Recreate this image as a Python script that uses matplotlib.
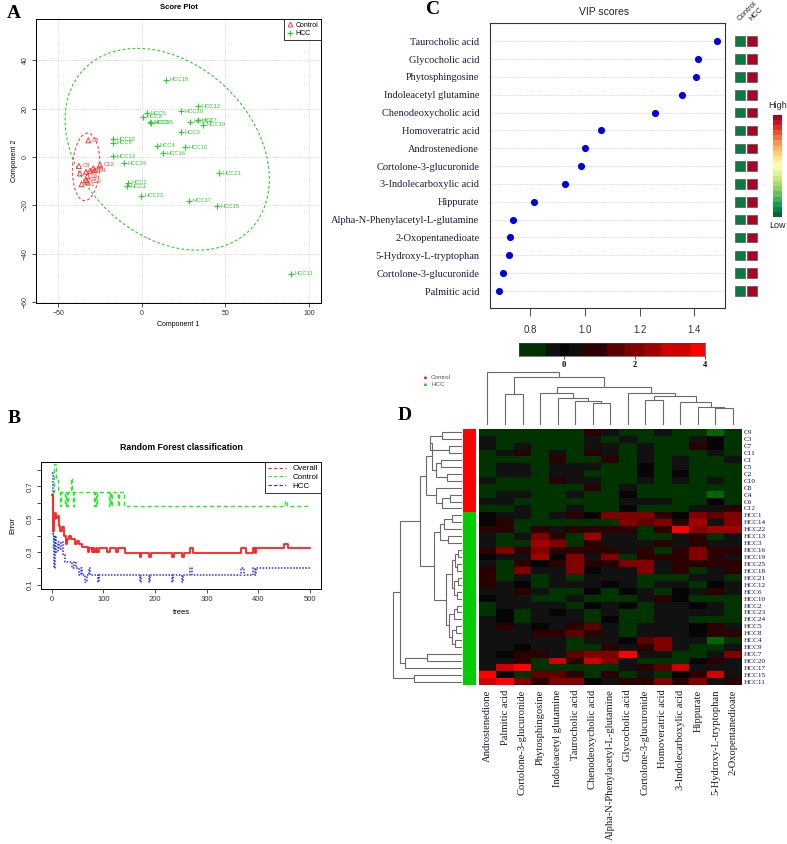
import numpy as np
import matplotlib
matplotlib.use("Agg")
import matplotlib.pyplot as plt
from matplotlib.colors import ListedColormap, BoundaryNorm
from matplotlib.lines import Line2D
from matplotlib.patches import Rectangle

SANS = ['Liberation Sans', 'DejaVu Sans']
SERIF = ['Liberation Serif', 'DejaVu Serif']
plt.rcParams['font.family'] = SANS

# ---------------- data: panel A (score plot) ----------------
ctrl_names = ['C8', 'C9', 'C12', 'C1', 'C2', 'C3', 'C4', 'C5', 'C6', 'C7', 'C10', 'C11']
ctrl_x = [-32.0, -37.6, -25.1, -37.0, -33.4, -29.1, -28.1, -31.0, -32.6, -33.4, -32.6, -36.0]
ctrl_y = [6.9, -3.7, -3.2, -6.8, -6.1, -4.7, -5.4, -5.7, -7.9, -9.5, -10.2, -11.2]
hcc_names = ['HCC18', 'HCC12', 'HCC20', 'HCC5', 'HCC9', 'HCC7', 'HCC14', 'HCC19', 'HCC6', 'HCC25',
             'HCC3', 'HCC4', 'HCC10', 'HCC16', 'HCC22', 'HCC8', 'HCC13', 'HCC24', 'HCC21', 'HCC2',
             'HCC1', 'HCC23', 'HCC17', 'HCC15', 'HCC11']
hcc_x = [14.2, 33.6, 23.4, 2.9, 0.9, 33.6, 29.0, 36.6, 5.1, 5.3, 23.4, 8.8, 25.8, 12.4, -17.5,
         -17.1, -17.1, -10.7, 46.3, -8.1, -9.1, -0.7, 28.4, 45.2, 89.0]
hcc_y = [31.9, 21.1, 19.0, 18.1, 16.7, 15.3, 14.5, 13.3, 14.4, 14.1, 10.2, 4.7, 4.0, 1.5, 7.3,
         5.9, 0.4, -2.6, -6.8, -10.6, -12.0, -16.1, -18.1, -20.3, -48.2]
ctrl_ell_center = [-33.3, -4.1]
ctrl_ell_cov = [[67.0, 12.0], [12.0, 195.0]]
hcc_ell_center = [15.2, 3.2]
hcc_ell_cov = [[3733.0, -750.0], [-750.0, 1743.0]]

# ---------------- data: panel B (random forest OOB error, step change points) ----------------
oob_trees = [1, 3, 5, 7, 9, 12, 14, 17, 20, 23, 27, 30, 33, 38, 45, 50, 53, 58, 70, 73, 78, 80, 82,
             85, 88, 92, 108, 112, 125, 128, 142, 170, 173, 188, 192, 233, 237, 252, 256, 268, 273,
             367, 375, 390, 393, 396, 450, 458, 500]
oob_err = [0.65, 0.43, 0.50, 0.54, 0.51, 0.52, 0.46, 0.43, 0.45, 0.40, 0.35, 0.38, 0.40, 0.38, 0.35,
           0.37, 0.35, 0.33, 0.30, 0.324, 0.30, 0.324, 0.30, 0.324, 0.30, 0.324, 0.30, 0.324, 0.30,
           0.324, 0.297, 0.27, 0.297, 0.27, 0.297, 0.27, 0.297, 0.27, 0.297, 0.324, 0.297, 0.324,
           0.297, 0.324, 0.297, 0.324, 0.351, 0.324, 0.324]
ctl_trees = [1, 3, 5, 9, 13, 16, 18, 25, 27, 30, 32, 38, 40, 41, 43, 82, 84, 86, 88, 110, 112, 115,
             117, 128, 130, 140, 452, 456, 500]
ctl_err = [0.333, 0.667, 0.833, 0.75, 0.667, 0.583, 0.667, 0.583, 0.667, 0.583, 0.667, 0.75, 0.667,
           0.583, 0.667, 0.583, 0.667, 0.583, 0.667, 0.583, 0.667, 0.583, 0.667, 0.583, 0.667,
           0.583, 0.61, 0.583, 0.583]
hcc_trees = [1, 3, 5, 7, 9, 12, 15, 19, 22, 25, 40, 43, 48, 53, 56, 58, 65, 68, 72, 74, 90, 92, 170,
             172, 188, 190, 233, 235, 253, 255, 268, 272, 367, 373, 390, 393, 396, 500]
hcc_err = [0.78, 0.40, 0.20, 0.40, 0.30, 0.36, 0.32, 0.36, 0.28, 0.24, 0.20, 0.24, 0.20, 0.16, 0.20,
           0.16, 0.12, 0.16, 0.20, 0.16, 0.12, 0.16, 0.12, 0.16, 0.12, 0.16, 0.12, 0.16, 0.12, 0.16,
           0.20, 0.16, 0.20, 0.16, 0.20, 0.16, 0.20, 0.20]

# ---------------- data: panel C (VIP scores) ----------------
vip_names = ['Taurocholic acid', 'Glycocholic acid', 'Phytosphingosine', 'Indoleacetyl glutamine',
             'Chenodeoxycholic acid', 'Homoveratric acid', 'Androstenedione',
             'Cortolone-3-glucuronide', '3-Indolecarboxylic acid', 'Hippurate',
             'Alpha-N-Phenylacetyl-L-glutamine', '2-Oxopentanedioate', '5-Hydroxy-L-tryptophan',
             'Cortolone-3-glucuronide', 'Palmitic acid']
vip_scores = [1.481, 1.414, 1.405, 1.356, 1.255, 1.058, 1.002, 0.986, 0.929, 0.815, 0.737, 0.727,
              0.722, 0.701, 0.687]
vip_ctrl_level = [0.04, 0.04, 0.04, 0.04, 0.04, 0.04, 0.04, 0.04, 0.04, 0.04, 0.04, 0.04, 0.04, 0.04, 0.04]
vip_hcc_level = [0.99, 0.99, 0.99, 0.99, 0.99, 0.99, 0.99, 0.99, 0.99, 0.99, 0.99, 0.99, 0.99, 0.99, 0.99]

# ---------------- data: panel D (heatmap) ----------------
hm_cols = ['Androstenedione', 'Palmitic acid', 'Cortolone-3-glucuronide', 'Phytosphingosine',
           'Indoleacetyl glutamine', 'Taurocholic acid', 'Chenodeoxycholic acid',
           'Alpha-N-Phenylacetyl-L-glutamine', 'Glycocholic acid', 'Cortolone-3-glucuronide',
           'Homoveratric acid', '3-Indolecarboxylic acid', 'Hippurate', '5-Hydroxy-L-tryptophan',
           '2-Oxopentanedioate']
hm_rows = ['C9', 'C3', 'C7', 'C11', 'C1', 'C5', 'C2', 'C10', 'C8', 'C4', 'C6', 'C12',
           'HCC1', 'HCC14', 'HCC22', 'HCC13', 'HCC3', 'HCC16', 'HCC19', 'HCC25', 'HCC18', 'HCC21',
           'HCC12', 'HCC6', 'HCC10', 'HCC2', 'HCC23', 'HCC24', 'HCC5', 'HCC8', 'HCC4', 'HCC9',
           'HCC7', 'HCC20', 'HCC17', 'HCC15', 'HCC11']
hm_group = ['Control'] * 12 + ['HCC'] * 25
hm_values = [
    [-1, -1, -1, -1, -1, -1, 0.9, -0.3, -1, -1, -0.3, -1, -1, -1.5, -1],
    [-0.3, -1, -1, -1, -1, -1, -0.3, -1, -0.3, -1, -1, -1, -0.3, 0, -1],
    [-0.3, -1, -0.3, -1, -1, -1, -0.3, -0.3, -1, -0.3, -1, -1, 0.9, 0, -1],
    [-1, -0.3, 0.9, -1, -0.3, -1, 0.9, -0.3, -1, -0.3, -1, -1, -1, -0.3, -1],
    [-1, -1, -1, -1, 0.9, -1, -1, 0.9, -1, -0.3, -1, -0.3, -1, -1, -0.3],
    [-1, -0.3, -0.3, -1, -0.3, -0.3, -0.3, -1, -1, 0, -1, -0.3, -1, -1, -1],
    [-1, -0.3, -0.3, -1, -0.3, -0.3, -1, -1, -1, 0, -1, 0, -1, -1, -1],
    [-0.3, -1, -1, -1, 0.9, -0.3, -0.3, -1, -1, -0.3, -1, -0.3, -1, -0.3, -1],
    [-1, -1, -1, -1, -1, -1, 0.9, -1, -0.3, -1, -1, -1, -1, -1, -1],
    [-1, -0.3, -0.3, -1, -1, -0.3, -1, -1, 0, -1, -1, -1, -1, -1.5, -1],
    [-0.3, -0.3, -1, -1, -1, -1, -1, -1, -0.3, -0.3, -0.3, -1, -1, 0, -1],
    [-1, -1, -0.3, -1, -1, -0.3, -1, -1, 0, -1, -1, -1, -0.3, -0.3, 0.9],
    [0, -0.3, -0.3, -1, -0.3, 0.9, 0, 2.0, 2.0, 2.0, 0.9, 0, 2.0, 1.5, 2.0],
    [0, 0.9, -1, -1, -1, -1, -1, -1, 2.0, 1.5, 2.0, 0.9, 2.5, -0.3, 2.0],
    [0.9, 0.9, -1, 0.9, -0.3, 0.9, 0.9, 0.9, 0.9, -1, 0.9, 3.8, 2.0, 2.5, 2.5],
    [-0.3, -1, -0.3, 2.0, 0.9, -1, 2.5, -0.3, -0.3, -1, -1, -0.3, 0.9, -1, -0.3],
    [-0.3, -1, -1, 2.5, 2.0, -1, 0.9, -0.3, -0.3, -0.3, 0.9, -0.3, 0.9, -0.3, -0.3],
    [0.9, 2.0, 0.9, 2.0, 0.9, 0.9, 0.9, 0.9, -0.3, 0.9, -1, 0.9, 2.0, 0.9, 0.9],
    [0, -0.3, -0.3, 2.5, 0, 2.0, -0.3, 2.0, -1, 0.9, 0.9, 0.9, 2.0, 0.9, -0.3],
    [-0.3, -1, 0.9, 0, 0.9, 2.0, 0.9, 0.9, 2.0, 2.0, -0.3, 0.9, 0.9, 0.9, 0.9],
    [0.9, -1, 2.0, -0.3, -0.3, 2.0, 0, -0.3, -0.3, 2.0, -0.3, 0.9, -1, -0.3, 0.9],
    [0.9, -1, -0.3, -1, -0.3, -1, -0.3, -0.3, -0.3, -1, -1, -1, -0.3, -0.3, -1],
    [0.9, -0.3, 0, -1, -0.3, -0.3, -0.3, 0, -0.3, -1, -0.3, -0.3, -1, 0, -0.3],
    [-0.3, -0.3, 0.9, -0.3, -1, -1, 0, -1, 0, -0.3, -1, 0, -0.3, 0.9, -0.3],
    [0, -0.3, -0.3, -1, -1, -0.3, -1, -1, -1, -0.3, 0.9, 0, -1, -1, -1],
    [-1, -0.3, -0.3, -0.3, -0.3, -1, 0, -0.3, 0, -1, -0.3, -0.3, 0, -0.3, -1],
    [-1, 0, -1, -0.3, 0, -0.3, -1, -0.3, -1, -1, -0.3, -0.3, -0.3, -0.3, -1],
    [-0.3, 0, -1, -0.3, -0.3, -0.3, -1, 0, -1, -1, -0.3, -0.3, -1, -1, -1],
    [-0.3, 0.9, -0.3, 0, -0.3, 0.9, 1.5, -0.3, -1, -0.3, -0.3, -0.3, 0, 0.9, -0.3],
    [-0.3, -0.3, -0.3, 0.9, 0.9, 1.5, 0.9, -0.3, -1, -0.3, -0.3, -0.3, 0, 0.9, 0.9],
    [-0.3, -0.3, -0.3, -0.3, -0.3, -1, -0.3, -0.3, 0, 1.5, 2.0, -0.3, -0.3, -1.5, -1],
    [-0.3, -0.3, 0, -0.3, -0.3, -1, -1, 0.9, -0.3, 0.9, 2.0, -0.3, -1, -1, -0.3],
    [-0.3, 0, 0.9, 0.9, -0.3, 1.5, 2.0, 2.0, 3.8, -0.3, -0.3, -1, -1, -0.3, 2.0],
    [-0.3, -0.3, 0.9, -1, 3.2, 0.9, 3.2, 2.0, -0.3, -1, -1, -1, 0, 0.9, -0.3],
    [-0.3, 3.2, 3.8, -1, -1, -1, -1, -1, -0.3, 0.9, 1.5, 3.2, -0.3, -0.3, -0.3],
    [3.8, 0, -1, 1.5, 1.5, 0.9, -1, 0.9, -1, -0.3, -1, 0, 0.9, 3.2, -0.3],
    [3.2, 3.8, 2.0, 0.9, 2.0, 2.0, 0, -0.3, 0.9, 0.9, 2.0, 0.9, 2.0, -0.3, 0.9],
]
# colour key of heatmap
key_bounds = [-1.27, -0.51, -0.11, 0.13, 0.51, 1.22, 1.74, 2.26, 2.74, 3.59, 4.0]
key_colors = ['#003300', '#111111', '#050505', '#0e0e0e', '#2b0000', '#5c0000', '#800000',
              '#a00000', '#d00000', '#ff0000']
# dendrograms: (child_a, child_b, height); new node ids continue after leaves
col_merges = [(6, 7, 65), (5, 15, 73), (4, 16, 80), (3, 17, 97), (1, 2, 93), (13, 14, 50),
              (12, 20, 55), (11, 21, 70), (9, 10, 75), (23, 22, 87), (8, 24, 97), (18, 25, 115),
              (19, 26, 145), (0, 27, 160)]
row_merges = [(0, 1, 20), (2, 3, 13), (37, 38, 32), (4, 5, 21), (6, 7, 15), (40, 41, 26),
              (39, 42, 30), (9, 10, 12), (44, 11, 20), (8, 45, 26), (43, 46, 36),
              (12, 13, 10), (48, 14, 18), (15, 16, 14), (49, 50, 22), (17, 18, 4), (19, 20, 5),
              (52, 53, 7), (21, 22, 4), (23, 24, 5), (55, 56, 8), (54, 57, 10), (25, 26, 5),
              (59, 27, 8), (28, 29, 6), (30, 31, 7), (61, 62, 10), (60, 63, 13), (58, 64, 16),
              (51, 65, 28), (47, 66, 42), (32, 33, 35), (68, 34, 57), (67, 69, 62), (35, 36, 48),
              (70, 71, 69)]

# ================= figure =================
W, H = 787, 844
fig = plt.figure(figsize=(W / 100, H / 100), dpi=100)


def add_ax(x0, y0, x1, y1):
    return fig.add_axes([x0 / W, 1 - y1 / H, (x1 - x0) / W, (y1 - y0) / H])


def ftext(x, y, s, **kw):
    fig.text(x / W, 1 - y / H, s, **kw)


def panel_letter(x, y, s):
    ftext(x, y, s, fontsize=14, fontweight='bold', family=SERIF, ha='center', va='center')


# ---------------- Panel A ----------------
RED_A = '#ff3b3b'
GRN_A = '#2ecc2e'
axA = add_ax(36, 19, 321, 303)
axA.set_xlim(-63.3, 107.2)
axA.set_ylim(-60.4, 57.1)
axA.set_xticks([-50, 0, 50, 100])
axA.set_yticks([-60, -40, -20, 0, 20, 40])
axA.grid(True, color='#c8c8c8', ls=':', lw=0.6)
axA.set_axisbelow(True)
t = np.linspace(0, 2 * np.pi, 300)
for cen, cov, col in [(hcc_ell_center, hcc_ell_cov, GRN_A), (ctrl_ell_center, ctrl_ell_cov, RED_A)]:
    vals, vecs = np.linalg.eigh(np.array(cov))
    pts = vecs @ (np.sqrt(vals)[:, None] * np.vstack([np.cos(t), np.sin(t)]))
    axA.plot(cen[0] + pts[0], cen[1] + pts[1], color=col, ls=(0, (2.5, 2)), lw=0.8)
axA.scatter(hcc_x, hcc_y, marker='+', color=GRN_A, s=16, lw=0.8, zorder=3)
axA.scatter(ctrl_x, ctrl_y, marker='^', facecolors='none', edgecolors=RED_A, s=13, lw=0.7, zorder=3)
for n, x, y in zip(hcc_names, hcc_x, hcc_y):
    axA.annotate(n, (x, y), xytext=(2.5, 0), textcoords='offset points', fontsize=4.2,
                 color=GRN_A, va='center')
for n, x, y in zip(ctrl_names, ctrl_x, ctrl_y):
    axA.annotate(n, (x, y), xytext=(2.5, 0), textcoords='offset points', fontsize=4.2,
                 color=RED_A, va='center')
axA.tick_params(labelsize=5, length=3, width=0.6, pad=2, colors='#333333')
for lb in axA.get_yticklabels():
    lb.set_rotation(90)
    lb.set_va('center')
for s in axA.spines.values():
    s.set_linewidth(0.7)
axA.set_xlabel('Component 1', fontsize=5, labelpad=3)
axA.set_ylabel('Component 2', fontsize=5, labelpad=3)
axA.set_title('Score Plot', fontsize=5.5, fontweight='bold', pad=7)
legA = axA.legend(handles=[Line2D([], [], marker='^', ls='none', mfc='none', mec=RED_A, ms=3.5, mew=0.7),
                           Line2D([], [], marker='+', ls='none', color=GRN_A, ms=4, mew=0.8)],
                  labels=['Control', 'HCC'], loc='upper right', fontsize=5, frameon=True,
                  fancybox=False, edgecolor='black', borderaxespad=0, handletextpad=0.3,
                  handlelength=1.0, borderpad=0.4, labelspacing=0.2)
legA.get_frame().set_linewidth(0.7)
panel_letter(14, 13, 'A')

# ---------------- Panel B ----------------
axB = add_ax(41, 462, 321, 589)
axB.step(ctl_trees, ctl_err, where='post', color='#22ee22', ls=(0, (3, 2)), lw=1.0)
axB.step(hcc_trees, hcc_err, where='post', color='#2a2aff', ls=(0, (1, 1)), lw=1.1)
axB.step(oob_trees, oob_err, where='post', color='#ff2020', ls='-', lw=1.3)
axB.set_xlim(-20.6, 521)
axB.set_ylim(0.075, 0.848)
axB.set_xticks([0, 100, 200, 300, 400, 500])
axB.set_yticks([0.1, 0.2, 0.3, 0.4, 0.5, 0.6, 0.7, 0.8])
axB.set_yticklabels(['0.1', '', '0.3', '', '0.5', '', '0.7', ''])
axB.tick_params(labelsize=5.5, length=3, width=0.6, pad=2, colors='#333333')
for lb in axB.get_yticklabels():
    lb.set_rotation(90)
    lb.set_va('center')
for s in axB.spines.values():
    s.set_linewidth(0.7)
axB.set_xlabel('trees', fontsize=5.5, labelpad=4)
axB.set_ylabel('Error', fontsize=5.5, labelpad=8)
axB.set_title('Random Forest classification', fontsize=6.3, fontweight='bold', pad=9)
legB = axB.legend(handles=[Line2D([], [], color='#ff2020', ls=(0, (3, 2)), lw=0.8),
                           Line2D([], [], color='#22ee22', ls=(0, (3, 2)), lw=0.8),
                           Line2D([], [], color='#2a2aff', ls=(0, (3, 2)), lw=0.8)],
                  labels=['Overall', 'Control', 'HCC'], loc='upper right', fontsize=5.8,
                  frameon=True, fancybox=False, edgecolor='black', borderaxespad=0,
                  handlelength=2.2, handletextpad=0.8, borderpad=0.35, labelspacing=0.15)
legB.get_frame().set_linewidth(0.7)
panel_letter(14, 418, 'B')

# ---------------- Panel C ----------------
LABC = '#1c1c3c'
axC = add_ax(490.3, 23.3, 725.3, 308.3)
ypos = np.arange(len(vip_names))
axC.set_xlim(0.655, 1.513)
axC.set_ylim(14.97, -1.01)
for yv in ypos:
    axC.axhline(yv, color='#bbbbbb', ls=(0, (1, 1.5)), lw=0.5, zorder=1)
axC.scatter(vip_scores, ypos, s=17, color='#0000dd', zorder=3)
axC.set_yticks(ypos)
axC.set_yticklabels(vip_names, family=SERIF, fontsize=7.5, color=LABC)
axC.tick_params(axis='y', length=0, pad=8)
axC.set_xticks([0.8, 1.0, 1.2, 1.4])
axC.set_xticklabels(['0.8', '1.0', '1.2', '1.4'])
axC.tick_params(axis='x', labelsize=7, length=6, width=0.6, pad=6, colors='#333333')
for s in axC.spines.values():
    s.set_linewidth(0.8)
    s.set_color('#333333')
ftext(604, 12, 'VIP scores', fontsize=7.5, ha='center', va='center', color='#222222')
panel_letter(433, 9, 'C')

# group squares
cm_side = plt.get_cmap('RdYlGn_r')
axSq = add_ax(734, 23.3, 760, 308.3)
axSq.set_xlim(0, 2.6)
axSq.set_ylim(14.97, -1.01)
axSq.axis('off')
for yv, lc, lh in zip(ypos, vip_ctrl_level, vip_hcc_level):
    axSq.add_patch(Rectangle((0.1, yv - 0.27), 1.0, 0.54, facecolor=cm_side(lc), edgecolor='#555555', lw=0.5))
    axSq.add_patch(Rectangle((1.3, yv - 0.27), 1.0, 0.54, facecolor=cm_side(lh), edgecolor='#555555', lw=0.5))
ftext(741, 22, 'Control', fontsize=5.5, rotation=45, ha='left', va='bottom', rotation_mode='anchor', color='#222222')
ftext(753, 22, 'HCC', fontsize=5.5, rotation=45, ha='left', va='bottom', rotation_mode='anchor', color='#222222')
# High / Low bar
axHL = add_ax(773, 115, 782, 217)
grad = np.linspace(1, 0, 20)[:, None]
axHL.imshow(grad, aspect='auto', cmap=cm_side, vmin=0, vmax=1, interpolation='nearest')
axHL.set_xticks([])
axHL.set_yticks([])
for s in axHL.spines.values():
    s.set_visible(False)
ftext(778, 106, 'High', fontsize=6.5, ha='center', va='center', color='#222222')
ftext(778, 226, 'Low', fontsize=6.5, ha='center', va='center', color='#222222')

# ---------------- Panel D ----------------
cmapD = ListedColormap(key_colors)
cmapD.set_under('#006600')
cmapD.set_over('#ff0000')
normD = BoundaryNorm(key_bounds, cmapD.N)

axK = add_ax(519.3, 342.7, 705, 355.6)
axK.pcolormesh(key_bounds, [0, 1], np.array([[(a + b) / 2 for a, b in zip(key_bounds[:-1], key_bounds[1:])]]),
               cmap=cmapD, norm=normD)
axK.set_xlim(key_bounds[0], key_bounds[-1])
axK.set_yticks([])
axK.set_xticks([0, 2, 4])
axK.set_xticklabels(['0', '2', '4'], family=SERIF, fontweight='bold')
axK.tick_params(axis='x', labelsize=6, length=2.5, width=0.5, pad=1.5)
for s in axK.spines.values():
    s.set_linewidth(0.5)
    s.set_color('#444444')

# group legend
ftext(425, 377.7, '\u25a0', fontsize=3.5, color='#ff0000', ha='center', va='center')
ftext(425, 384.7, '\u25a0', fontsize=3.5, color='#00cc00', ha='center', va='center')
ftext(431, 377.7, 'Control', fontsize=4.5, color='#555555', ha='left', va='center')
ftext(431, 384.7, 'HCC', fontsize=4.5, color='#555555', ha='left', va='center')
panel_letter(405, 416, 'D')

nr, nc = len(hm_rows), len(hm_cols)
axH = add_ax(478.7, 428.7, 741.7, 685.3)
axH.pcolormesh(np.arange(nc + 1), np.arange(nr + 1), np.array(hm_values), cmap=cmapD, norm=normD)
axH.set_xlim(0, nc)
axH.set_ylim(nr, 0)
axH.set_xticks(np.arange(nc) + 0.5)
axH.set_xticklabels(hm_cols, rotation=90, family=SERIF, fontsize=7.6, color='#1a1a2a')
axH.set_yticks(np.arange(nr) + 0.5)
axH.set_yticklabels(hm_rows, family=SERIF, fontsize=5.2, color='#101050')
axH.yaxis.tick_right()
axH.tick_params(axis='both', length=0)
axH.tick_params(axis='x', pad=3)
axH.tick_params(axis='y', pad=1.5)
for s in axH.spines.values():
    s.set_visible(False)

# side colour bar
grp_colors = {'Control': '#ff0000', 'HCC': '#00cc00'}
axS = add_ax(463.3, 428.7, 476, 685.3)
for i, g in enumerate(hm_group):
    axS.add_patch(Rectangle((0, i), 1, 1, facecolor=grp_colors[g], edgecolor='none'))
axS.set_xlim(0, 1)
axS.set_ylim(nr, 0)
axS.axis('off')


def draw_dendro(ax, merges, n_leaves, orient):
    pos = {i: i + 0.5 for i in range(n_leaves)}
    hgt = {i: 0.0 for i in range(n_leaves)}
    for k, (a, b, h) in enumerate(merges):
        node = n_leaves + k
        pa, pb, ha, hb = pos[a], pos[b], hgt[a], hgt[b]
        if orient == 'top':
            ax.plot([pa, pa, pb, pb], [ha, h, h, hb], color='#6a6a6a', lw=0.8, solid_joinstyle='miter')
        else:
            ax.plot([ha, h, h, hb], [pa, pa, pb, pb], color='#6a6a6a', lw=0.8, solid_joinstyle='miter')
        pos[node] = (pa + pb) / 2
        hgt[node] = h


axDc = add_ax(478.7, 368, 741.7, 425)
draw_dendro(axDc, col_merges, nc, 'top')
axDc.set_xlim(0, nc)
axDc.set_ylim(0, 171)
axDc.axis('off')

axDr = add_ax(390, 428.7, 462, 685.3)
draw_dendro(axDr, row_merges, nr, 'left')
axDr.set_xlim(72, 0)
axDr.set_ylim(nr, 0)
axDr.axis('off')

fig.savefig('out.png', dpi=100)
